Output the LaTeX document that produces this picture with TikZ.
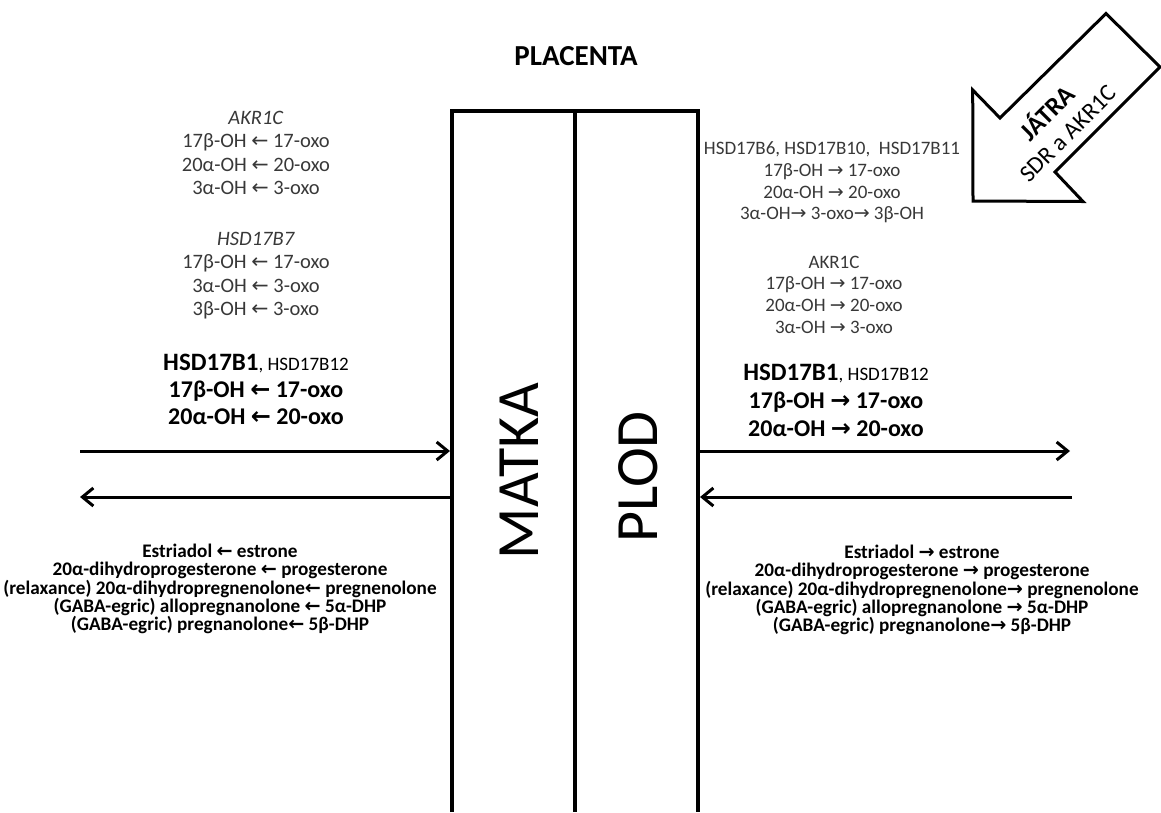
\documentclass[tikz,border=0pt]{standalone}
\usepackage{fontspec}
\setmainfont{Carlito}
\newfontfamily\arrowfont{DejaVu Sans}
\usetikzlibrary{arrows.meta, positioning}

\newcommand{\arrL}{{\arrowfont ←}}
\newcommand{\arrR}{{\arrowfont →}}

\begin{document}
\begin{tikzpicture}[
  x=1pt, y=-1pt,
  % line styles
  wall/.style={line width=3.5pt, line join=miter},
  flow/.style={line width=3pt, -{Straight Barb[length=11pt, width=18pt]}},
  liver/.style={line width=3pt, line join=miter, fill=white},
  % text styles
  enzL/.style={align=center, text=black!78, font=\fontsize{20.5}{23.5}\selectfont},
  enzR/.style={align=center, text=black!78, font=\fontsize{19}{21.7}\selectfont},
  mainL/.style={align=center, font=\bfseries\fontsize{24}{27}\selectfont},
  mainR/.style={align=center, font=\bfseries\fontsize{24}{28}\selectfont},
  prod/.style={align=center, font=\bfseries\fontsize{19.2}{18.4}\selectfont},
  side/.style={font=\fontsize{60}{66}\selectfont, rotate=90},
  head/.style={font=\bfseries\fontsize{29}{32}\selectfont},
]
\useasboundingbox (0,0) rectangle (1161,812);

% ---- PLACENTA (open box) ----
\coordinate (mTop) at (452,111);
\coordinate (mBot) at (452,812);
\coordinate (cTop) at (575,111);
\coordinate (cBot) at (575,812);
\coordinate (fTop) at (698,111);
\coordinate (fBot) at (698,812);

\draw[wall] (mBot) -- (mTop) -- (fTop) -- (fBot);
\draw[wall] (cTop) -- (cBot);

\node[head] (placenta) at (576,56) {PLACENTA};
\node[side] (matka) at (519,471) {MATKA};
\node[side] (plod)  at (638,477) {PLOD};

% ---- transport arrows ----
\coordinate (inL)  at (80,451);
\coordinate (outL) at (80,497);
\coordinate (inR)  at (1070,451);
\coordinate (outR) at (1072,497);

\draw[flow] (inL) -- ([xshift=-2pt]mTop |- inL);
\draw[flow] ([xshift=-2pt]mTop |- outL) -- (outL);
\draw[flow] ([xshift=2pt]fTop |- inR) -- (inR);
\draw[flow] (outR) -- ([xshift=2pt]fTop |- outR);

% ---- MATKA side (left) ----
\node[enzL] (akrL) at (256,153)
  {\textit{AKR1C}\\17β-OH \arrL{} 17-oxo\\20α-OH \arrL{} 20-oxo\\3α-OH \arrL{} 3-oxo};
\node[enzL] (hsdB7) at (256,275.5)
  {\textit{HSD17B7}\\17β-OH \arrL{} 17-oxo\\3α-OH \arrL{} 3-oxo\\3β-OH \arrL{} 3-oxo};
\node[mainL] (hsdB1L) at (256,389)
  {{\fontsize{25}{27}\selectfont HSD17B1}{\mdseries\fontsize{19}{27}\selectfont, HSD17B12}\\
   17β-OH \arrL{} 17-oxo\\20α-OH \arrL{} 20-oxo};

\node[prod] (prodL) at (220,589)
  {Estriadol \arrL{} estrone\\
   20α-dihydroprogesterone \arrL{} progesterone\\
   (relaxance) 20α-dihydropregnenolone\arrL{} pregnenolone\\
   (GABA-egric) allopregnanolone \arrL{} 5α-DHP\\
   (GABA-egric) pregnanolone\arrL{} 5β-DHP};

% ---- PLOD side (right) ----
\node[enzR] (sdrR) at (832,182.5)
  {HSD17B6, HSD17B10, \ HSD17B11\\17β-OH \arrR{} 17-oxo\\20α-OH \arrR{} 20-oxo\\3α-OH\arrR{} 3-oxo\arrR{} 3β-OH};
\node[enzR] (akrR) at (834,294.5)
  {AKR1C\\17β-OH \arrR{} 17-oxo\\20α-OH \arrR{} 20-oxo\\3α-OH \arrR{} 3-oxo};
\node[mainR] (hsdB1R) at (836,400)
  {{\fontsize{25}{28}\selectfont HSD17B1}{\mdseries\fontsize{19}{28}\selectfont, HSD17B12}\\
   17β-OH \arrR{} 17-oxo\\20α-OH \arrR{} 20-oxo};

\node[prod] (prodR) at (922,590)
  {Estriadol \arrR{} estrone\\
   20α-dihydroprogesterone \arrR{} progesterone\\
   (relaxance) 20α-dihydropregnenolone\arrR{} pregnenolone\\
   (GABA-egric) allopregnanolone \arrR{} 5α-DHP\\
   (GABA-egric) pregnanolone\arrR{} 5β-DHP};

% ---- JATRA block arrow ----
\draw[liver] (973,201) -- (972.7,90) -- (1000,118) -- (1106,13.5)
  -- (1160,67) -- (1055,172) -- (1083,201.5) -- cycle;
\node[align=center, rotate=45, font=\fontsize{24}{28}\selectfont] (jatra) at (1056,121.5)
  {{\bfseries\fontsize{26}{28}\selectfont JÁTRA}\\SDR a AKR1C};

\end{tikzpicture}
\end{document}
